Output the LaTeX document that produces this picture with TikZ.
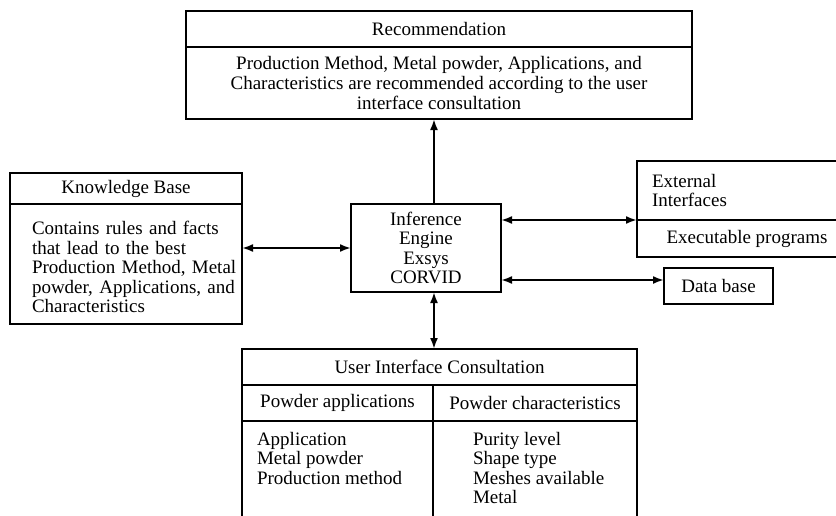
\documentclass[tikz,border=0pt]{standalone}
\usepackage{fontspec}
\setmainfont{Liberation Serif}
\usetikzlibrary{arrows.meta}

\begin{document}
\begin{tikzpicture}[x=1pt,y=-1pt]
\tikzstyle{every node}+=[inner sep=0pt, outer sep=0pt, font=\fontsize{19}{19.6}\selectfont]
\tikzstyle{box}=[draw=black, line width=1.1pt]
\tikzstyle{link}=[line width=2pt, {Latex[length=11pt,width=8pt]}-{Latex[length=11pt,width=8pt]}]
\tikzstyle{uplink}=[line width=2pt, -{Latex[length=11pt,width=8pt]}]

\useasboundingbox (0,0) rectangle (836,515);
\clip (0,0) rectangle (836,515);

% recommendation
\draw (439,29) node[box, minimum width=506pt, minimum height=36pt] (rechead) {Recommendation};
\draw (439,83) node[box, minimum width=506pt, minimum height=72pt, align=center] (recbody)
  {Production Method, Metal powder, Applications, and\\
   Characteristics are recommended according to the user\\
   interface consultation};

% knowledge base
\draw (126,188.5) node[box, minimum width=232pt, minimum height=31pt] (kbhead) {Knowledge Base};
\draw (126,264) node[box, minimum width=232pt, minimum height=120pt] (kbbody) {};
\draw (130.5,267) node[text width=197pt, align=left] (kbtext)
  {\makebox[\linewidth][s]{Contains rules and facts}\\
   \makebox[\linewidth][s]{that lead to the best}\\
   \makebox[\linewidth][s]{Production Method, Metal}\\
   \makebox[\linewidth][s]{powder, Applications, and}\\
   Characteristics};

% inference engine
\draw (426,248) node[box, minimum width=150pt, minimum height=88pt, align=center] (infeng)
  {Inference\\Engine\\Exsys\\CORVID};

% external interfaces
\draw (747,190.5) node[box, minimum width=220pt, minimum height=59pt, text width=190pt, align=left] (exthead)
  {External\\Interfaces};
\draw (747,238.5) node[box, minimum width=220pt, minimum height=37pt] (extbody) {Executable programs};

% data base
\draw (718.5,286) node[box, minimum width=109pt, minimum height=36pt] (db) {Data base};

% user interface consultation
\draw (439.5,367) node[box, minimum width=395pt, minimum height=36pt] (uichead) {User Interface Consultation};
\draw (337.5,403) node[box, minimum width=191pt, minimum height=36pt] (appfield) {Powder applications};
\draw (535,403) node[box, minimum width=204pt, minimum height=36pt] (charfield) {Powder characteristics};
\draw (337.5,490.5) node[box, minimum width=191pt, minimum height=139pt] (applist) {};
\draw (535,490.5) node[box, minimum width=204pt, minimum height=139pt] (charlist) {};
\draw (257,432) node[anchor=north west, align=left] (appitems)
  {Application\\Metal powder\\Production method};
\draw (473,432) node[anchor=north west, align=left] (charitems)
  {Purity level\\Shape type\\Meshes available\\Metal};

% connectors
\coordinate (axis) at (434,0);
\draw [uplink] (infeng.north -| axis) -- (recbody.south -| axis);
\draw [link] (infeng.south -| axis) -- (uichead.north -| axis);
\draw [link] (kbbody.east |- infeng.west) -- (infeng.west);
\draw [link] (infeng.east |- extbody.north west) -- (extbody.north west);
\draw [link] ([yshift=6pt]db.west -| infeng.east) -- ([yshift=6pt]db.west);
\end{tikzpicture}
\end{document}
